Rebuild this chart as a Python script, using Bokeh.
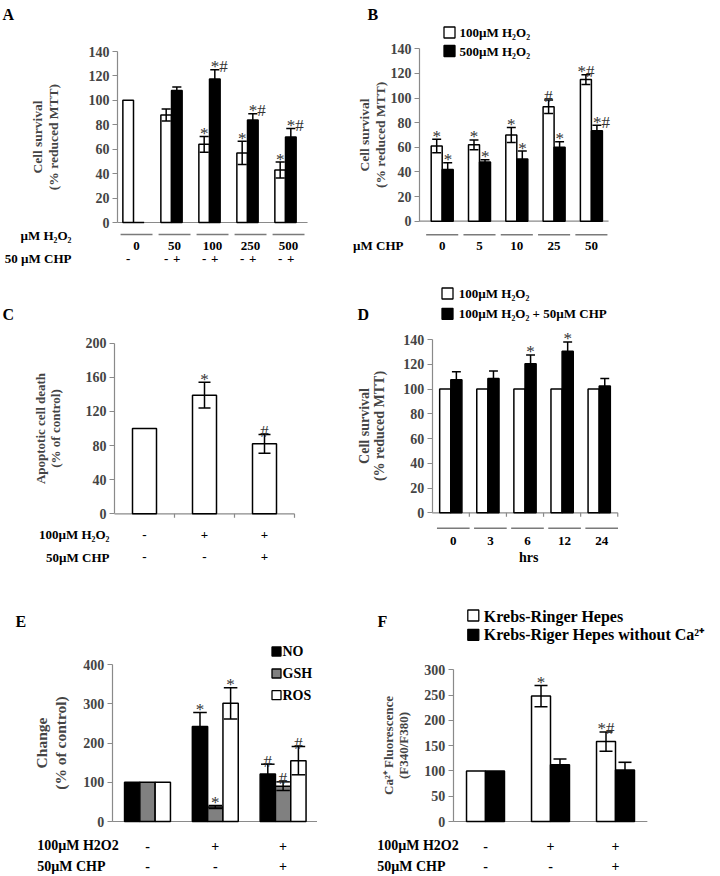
import numpy as np
from bokeh.plotting import figure
from bokeh.models import Range1d, LinearAxis, FixedTicker
from bokeh.layouts import column, row
from bokeh.embed import file_html
from bokeh.resources import INLINE
from bokeh.core.properties import value

FONT = "Liberation Serif"
AXIS_GREY = "#8a8a8a"
LINE_GREY = "#7a7a7a"
SIG_COLOR = "#333333"

# ---------------- DATA ----------------
# A: cell survival vs H2O2 dose, without / with 50 uM CHP
a_h2o2 = ["0", "50", "100", "250", "500"]
a_no_chp = [100, 88, 64, 57, 43]
a_no_chp_err = [0, 5, 6.5, 9.5, 6.5]
a_chp = [0, 108, 117.5, 84, 70]
a_chp_err = [0, 3, 7.5, 5, 7]
a_no_chp_sign = ["-", "-", "-", "-", "-"]
a_chp_sign = ["", "+", "+", "+", "+"]
a_no_chp_sig = ["", "", "*", "*", "*"]
a_chp_sig = ["", "", "*#", "*#", "*#"]
a_ticks = [0, 20, 40, 60, 80, 100, 120, 140]

# B: cell survival vs CHP dose
b_chp = ["0", "5", "10", "25", "50"]
b_100 = [61, 62, 70, 93, 115]
b_100_err = [5.5, 4, 6, 5.5, 4]
b_500 = [42, 48, 50.5, 60, 73.5]
b_500_err = [5.5, 2, 6.5, 4.5, 4.5]
b_100_sig = ["*", "*", "*", "#", "*#"]
b_500_sig = ["*", "*", "*", "*", "*#"]
b_ticks = [0, 20, 40, 60, 80, 100, 120, 140]

# C: apoptotic cell death
c_h2o2 = ["-", "+", "+"]
c_chp = ["-", "-", "+"]
c_death = [100, 139, 82]
c_death_err = [0, 15, 11]
c_sig = ["", "*", "#"]
c_ticks = [0, 40, 80, 120, 160, 200]

# D: time course
d_hours = ["0", "3", "6", "12", "24"]
d_h2o2 = [100, 100, 100, 100, 100]
d_h2o2_chp = [107.5, 108.5, 120.5, 130.5, 102.5]
d_h2o2_chp_err = [6.5, 6, 7, 7.5, 6]
d_sig = ["", "", "*", "*", ""]
d_ticks = [0, 20, 40, 60, 80, 100, 120, 140]

# E: NO / GSH / ROS
e_h2o2 = ["-", "+", "+"]
e_chp = ["-", "-", "+"]
e_no = [100, 242, 121]
e_no_err = [0, 36, 25]
e_gsh = [100, 37, 90]
e_gsh_err = [0, 4, 11]
e_ros = [100, 301, 155]
e_ros_err = [0, 40, 36]
e_no_sig = ["", "*", "#"]
e_gsh_sig = ["", "*", "#"]
e_ros_sig = ["", "*", "#"]
e_ticks = [0, 100, 200, 300, 400]

# F: Ca2+ fluorescence
f_h2o2 = ["-", "+", "+"]
f_chp = ["-", "-", "+"]
f_krh = [100, 248, 158]
f_krh_err = [0, 21, 19]
f_krh_noca = [100, 112, 102]
f_krh_noca_err = [0, 11.5, 15]
f_krh_sig = ["", "*", "*#"]
f_ticks = [0, 50, 100, 150, 200, 250, 300]


# ---------------- HELPERS ----------------
class Panel:
    def __init__(self, rect, axis_x, x0, sx, y0, sy):
        L, T, W, H = rect
        self.axis_x = axis_x
        self.x0, self.sx, self.y0, self.sy = x0, sx, y0, sy
        self.p = figure(width=W, height=H,
                        x_range=Range1d(self.X(L), self.X(L + W)),
                        y_range=Range1d(self.Y(T + H), self.Y(T)),
                        output_backend="svg", toolbar_location=None, tools="",
                        x_axis_location=None, y_axis_location=None,
                        min_border=0, min_border_left=0, min_border_right=0,
                        min_border_top=0, min_border_bottom=0,
                        outline_line_color=None)
        self.p.grid.visible = False

    def X(self, px):
        return (px - self.x0) / self.sx

    def Y(self, py):
        return (self.y0 - py) / self.sy

    def yaxis(self, ticks, label, size, standoff, lh):
        ax = LinearAxis(ticker=FixedTicker(ticks=ticks), bounds=(ticks[0], ticks[-1]),
                        fixed_location=self.X(self.axis_x),
                        axis_label=label, axis_label_text_font=FONT,
                        axis_label_text_font_style="bold",
                        axis_label_text_font_size=f"{size}px",
                        axis_label_standoff=standoff, axis_label_text_line_height=lh,
                        major_label_text_font=FONT, major_label_text_font_style="bold",
                        major_label_text_font_size="14px", major_label_standoff=3,
                        axis_line_color=AXIS_GREY, axis_line_width=1.2,
                        major_tick_line_color=AXIS_GREY, major_tick_line_width=1.2,
                        major_tick_in=0, major_tick_out=5,
                        minor_tick_line_color=None)
        self.p.add_layout(ax, "left")

    def baseline(self, end, ticks=None):
        xs = self.X(self.axis_x)
        self.p.segment(x0=[xs], y0=[0], x1=[end], y1=[0], line_color=AXIS_GREY, line_width=1.2)
        if ticks is not None:
            self.p.segment(x0=list(ticks), y0=[0] * len(ticks), x1=list(ticks),
                           y1=[-4 / self.sy] * len(ticks), line_color=AXIS_GREY, line_width=1.2)

    def bars(self, xs, tops, width, fill):
        self.p.vbar(x=list(xs), top=list(tops), bottom=0, width=width,
                    fill_color=fill, line_color="black", line_width=1.5)

    def errors(self, xs, tops, errs, cap):
        idx = [i for i, e in enumerate(errs) if e > 0]
        x = [xs[i] for i in idx]
        lo = [tops[i] - errs[i] for i in idx]
        hi = [tops[i] + errs[i] for i in idx]
        self.p.segment(x0=x, y0=lo, x1=x, y1=hi, line_color="black", line_width=1.5)
        for yy in (lo, hi):
            self.p.segment(x0=[v - cap for v in x], y0=yy, x1=[v + cap for v in x], y1=yy,
                           line_color="black", line_width=1.5)

    def marks(self, xs, tops, errs, labels, align="center", xoff=0, gap=3):
        idx = [i for i, s in enumerate(labels) if s]
        if not idx:
            return
        self.p.text(x=[xs[i] + xoff / self.sx for i in idx],
                    y=[tops[i] + errs[i] + gap / self.sy for i in idx],
                    text=[labels[i] for i in idx],
                    text_font=value(FONT), text_font_size="17px", text_color=SIG_COLOR,
                    text_align=align, text_baseline="alphabetic")

    def text(self, xs, py, texts, size, align="center", baseline="middle", style="bold"):
        xs = list(xs)
        self.p.text(x=xs, y=[self.Y(py)] * len(xs), text=list(texts),
                    text_font=value(FONT), text_font_style=style,
                    text_font_size=f"{size}px", text_align=align,
                    text_baseline=baseline, text_color="black")

    def ptext(self, px, py, text, size, align="left", baseline="middle"):
        self.text([self.X(px)], py, [text], size, align=align, baseline=baseline)

    def hlines(self, x0s, x1s, py, color=LINE_GREY, width=1.5):
        x0s = list(x0s)
        self.p.segment(x0=x0s, y0=[self.Y(py)] * len(x0s), x1=list(x1s),
                       y1=[self.Y(py)] * len(x0s), line_color=color, line_width=width)

    def swatch(self, px, py, size, fill):
        self.p.scatter(x=[self.X(px)], y=[self.Y(py)], marker="square", size=size,
                       fill_color=fill, line_color="black", line_width=1.3)


# ---------------- PANEL A ----------------
A = Panel((0, 0, 350, 285), 117, 133, 38, 222, 171 / 140)
A.yaxis(a_ticks, "Cell survival\n(% reduced MTT)", 13.5, 25, 1.04)
g = np.arange(len(a_h2o2))
bw = 0.28
xw = list(g - bw / 2)
xb = list(g + bw / 2)
A.baseline(g[-1] + 0.58)
A.bars(xw, a_no_chp, bw, "white")
A.bars(xb, a_chp, bw, "black")
A.errors(xw, a_no_chp, a_no_chp_err, 0.12)
A.errors(xb, a_chp, a_chp_err, 0.12)
A.marks(xw, a_no_chp, a_no_chp_err, a_no_chp_sig)
A.marks(xb, a_chp, a_chp_err, a_chp_sig, align="left", xoff=-4)
A.hlines(g + 0.08 - 0.42, g + 0.08 + 0.42, 234)
A.text(g + 0.08, 245, a_h2o2, 13)
A.text(xw, 258, a_no_chp_sign, 13)
A.text(xb, 258, a_chp_sign, 13)
A.ptext(71, 235, "µM H₂O₂", 13, align="right")
A.ptext(71, 258, "50 µM CHP", 13, align="right")
A.ptext(2, 14, "A", 16, baseline="alphabetic")

# ---------------- PANEL B ----------------
B = Panel((350, 0, 368, 285), 419, 441.7, 37.3, 220.7, 172.4 / 140)
B.yaxis(b_ticks, "Cell survival\n(% reduced MTT)", 13.5, 0, 1.04)
g = np.arange(len(b_chp))
bw = 0.295
xw = list(g - bw / 2)
xb = list(g + bw / 2)
B.baseline(g[-1] + 0.46)
B.bars(xw, b_100, bw, "white")
B.bars(xb, b_500, bw, "black")
B.errors(xw, b_100, b_100_err, 0.12)
B.errors(xb, b_500, b_500_err, 0.12)
B.marks(xw, b_100, b_100_err, b_100_sig)
B.marks(xb, b_500, b_500_err, b_500_sig, align="left", xoff=-4)
B.hlines(g - 0.43, g + 0.43, 234.3)
B.text(g, 245, b_chp, 13)
B.ptext(403, 245, "µM CHP", 13, align="right")
B.swatch(449, 32, 11, "white")
B.swatch(449, 50.5, 11, "black")
B.ptext(459, 32, "100µM H₂O₂", 13)
B.ptext(459, 51, "500µM H₂O₂", 13)
B.ptext(367, 14, "B", 16, baseline="alphabetic")

# ---------------- PANEL C ----------------
C = Panel((0, 285, 350, 293), 114, 144, 60, 513.3, 170.7 / 200)
C.yaxis(c_ticks, "Apoptotic cell death\n(% of control)", 13, 20, 1.0)
g = np.arange(len(c_death))
C.baseline(g[-1] + 0.5, ticks=list(g + 0.5))
C.bars(g, c_death, 0.4, "white")
C.errors(list(g), c_death, c_death_err, 0.1)
C.marks(list(g), c_death, c_death_err, c_sig)
C.text(g, 534.3, c_h2o2, 13)
C.text(g, 556.7, c_chp, 13)
C.ptext(109, 534.3, "100µM H₂O₂", 13, align="right")
C.ptext(109, 556.7, "50µM CHP", 13, align="right")
C.ptext(2, 314, "C", 16, baseline="alphabetic")

# ---------------- PANEL D ----------------
D = Panel((350, 285, 368, 293), 431.7, 450.3, 37.1, 512.3, 173.3 / 140)
D.yaxis(d_ticks, "Cell survival\n(% reduced MTT)", 14, 14, 0.95)
g = np.arange(len(d_hours))
bw = 0.3
xw = list(g - bw / 2)
xb = list(g + bw / 2)
D.baseline(g[-1] + 0.5, ticks=list(g + 0.5))
D.bars(xw, d_h2o2, bw, "white")
D.bars(xb, d_h2o2_chp, bw, "black")
D.errors(xb, d_h2o2_chp, d_h2o2_chp_err, 0.12)
D.marks(xb, d_h2o2_chp, d_h2o2_chp_err, d_sig)
D.hlines(g + 0.067 - 0.44, g + 0.067 + 0.44, 527.7)
D.text(g + 0.067, 540, d_hours, 13)
D.text([g.mean() + 0.1], 556.7, ["hrs"], 14)
D.swatch(447, 293, 11, "white")
D.swatch(447, 313.3, 11, "black")
D.ptext(458.3, 293, "100µM H₂O₂", 13)
D.ptext(458.3, 313.3, "100µM H₂O₂ + 50µM CHP", 13)
D.ptext(357, 314, "D", 16, baseline="alphabetic")

# ---------------- PANEL E ----------------
E = Panel((0, 578, 350, 296), 111.7, 147, 67.8, 821, 157 / 400)
E.yaxis(e_ticks, "Change\n(% of control)", 15.5, 12, 1.07)
g = np.arange(len(e_no))
bw = 0.2257
xn = list(g - bw)
xg = list(g)
xr = list(g + bw)
E.baseline(g[-1] + 0.5)
E.bars(xn, e_no, bw, "black")
E.bars(xg, e_gsh, bw, "#808080")
E.bars(xr, e_ros, bw, "white")
E.errors(xn, e_no, e_no_err, 0.1)
E.errors(xg, e_gsh, e_gsh_err, 0.1)
E.errors(xr, e_ros, e_ros_err, 0.1)
E.marks(xn, e_no, e_no_err, e_no_sig)
E.marks(xg, e_gsh, e_gsh_err, e_gsh_sig)
E.marks(xr, e_ros, e_ros_err, e_ros_sig)
E.text(g, 845, e_h2o2, 14)
E.text(g, 865.5, e_chp, 14)
E.ptext(36.7, 845, "100µM H2O2", 14)
E.ptext(36.7, 865.5, "50µM CHP", 14)
E.swatch(276, 651, 9, "black")
E.swatch(276, 673, 9, "#808080")
E.swatch(276, 694.7, 9, "white")
E.ptext(282, 651, "NO", 14)
E.ptext(282, 673, "GSH", 14)
E.ptext(282, 694.7, "ROS", 14)
E.ptext(15, 621, "E", 16, baseline="alphabetic")

# ---------------- PANEL F ----------------
F = Panel((350, 578, 368, 296), 452.7, 485, 65, 821, 151.7 / 300)
F.yaxis(f_ticks, "Ca²⁺ Fluorescence\n(F340/F380)", 13, 11, 1.0)
g = np.arange(len(f_krh))
bw = 0.292
xw = list(g - bw / 2)
xb = list(g + bw / 2)
F.baseline(g[-1] + 0.49)
F.bars(xw, f_krh, bw, "white")
F.bars(xb, f_krh_noca, bw, "black")
F.errors(xw, f_krh, f_krh_err, 0.1)
F.errors(xb, f_krh_noca, f_krh_noca_err, 0.1)
F.marks(xw, f_krh, f_krh_err, f_krh_sig)
F.text(g, 845, f_h2o2, 14)
F.text(g, 865.5, f_chp, 14)
F.ptext(376.7, 845, "100µM H2O2", 14)
F.ptext(376.7, 865.5, "50µM CHP", 14)
F.swatch(472.8, 615, 11, "white")
F.swatch(472.8, 634.3, 11, "black")
F.ptext(483.3, 615.5, "Krebs-Ringer Hepes", 16)
F.ptext(483.3, 634, "Krebs-Riger Hepes without Ca²⁺", 16)
F.ptext(377, 621, "F", 16, baseline="alphabetic")

layout = column(row(A.p, B.p), row(C.p, D.p), row(E.p, F.p))
open("out.html", "w").write(file_html(layout, INLINE, "Figure"))
